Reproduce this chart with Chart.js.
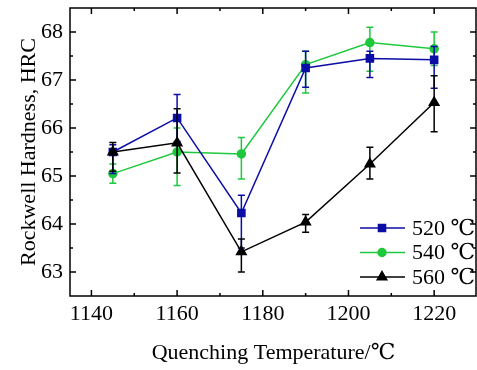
<!DOCTYPE html>
<html>
<head>
<meta charset="utf-8">
<script src="https://cdn.jsdelivr.net/npm/chart.js@4.4.0/dist/chart.umd.min.js"></script>
<style>
    html, body { margin: 0; padding: 0; background: #fff; }
    #wrap { width: 477px; height: 370px; }
</style>
</head>
<body>
<div id="wrap"><canvas id="hrcChart" width="477" height="370"></canvas></div>
<script>
// Data
const temps = [1145, 1160, 1175, 1190, 1205, 1220];

const hrc520 = [65.5, 66.21, 64.23, 67.25, 67.45, 67.42];
const lo520 = [65.05, 65.72, 63.5, 66.85, 67.05, 66.83];
const hi520 = [65.65, 66.7, 64.6, 67.6, 67.6, 67.7];

const hrc540 = [65.05, 65.5, 65.46, 67.32, 67.78, 67.65];
const lo540 = [64.85, 64.8, 64.94, 66.73, 67.18, 67.3];
const hi540 = [65.25, 66.0, 65.8, 67.6, 68.1, 68.0];

const hrc560 = [65.5, 65.69, 63.42, 64.04, 65.25, 66.53];
const lo560 = [65.1, 65.06, 63.0, 63.83, 64.94, 65.92];
const hi560 = [65.7, 66.4, 63.69, 64.2, 65.6, 67.09];

const seriesLabels = ['520 ℃', '540 ℃', '560 ℃'];
const xTicks = [1140, 1160, 1180, 1200, 1220];
const yTicks = [63, 64, 65, 66, 67, 68];

const FONT = "'Liberation Serif', 'DejaVu Serif', 'Noto Sans CJK SC', serif";
Chart.defaults.color = '#000';

function pts(ys, lo, hi) {
    return temps.map((t, i) => ({ x: t, y: ys[i], lo: lo[i], hi: hi[i] }));
}

// error bars, drawn under each dataset's line and markers
const errorBars = {
    id: 'errorBars',
    beforeDatasetDraw(chart, args) {
        const ds = chart.data.datasets[args.index];
        const xs = chart.scales.x, ys = chart.scales.y;
        const ctx = chart.ctx;
        ctx.save();
        ctx.strokeStyle = ds.borderColor;
        ctx.lineWidth = 1.5;
        ds.data.forEach(p => {
            const px = xs.getPixelForValue(p.x);
            const top = ys.getPixelForValue(p.hi);
            const bot = ys.getPixelForValue(p.lo);
            ctx.beginPath();
            ctx.moveTo(px, top); ctx.lineTo(px, bot);
            ctx.moveTo(px - 3.5, top); ctx.lineTo(px + 3.5, top);
            ctx.moveTo(px - 3.5, bot); ctx.lineTo(px + 3.5, bot);
            ctx.stroke();
        });
        ctx.restore();
    }
};

// box around the plot with inward ticks on all four sides
const frame = {
    id: 'frame',
    afterDatasetsDraw(chart) {
        const { ctx, chartArea: a } = chart;
        const xs = chart.scales.x, ys = chart.scales.y;
        const r = a.right - 1;
        ctx.save();
        ctx.strokeStyle = '#000';
        ctx.lineWidth = 1.5;
        ctx.strokeRect(a.left, a.top, r - a.left, a.bottom - a.top);
        ctx.beginPath();
        xTicks.forEach(v => {
            const px = xs.getPixelForValue(v);
            ctx.moveTo(px, a.bottom); ctx.lineTo(px, a.bottom - 6);
            ctx.moveTo(px, a.top); ctx.lineTo(px, a.top + 6);
            const m = xs.getPixelForValue(v + 10);
            if (m < r - 3) {
                ctx.moveTo(m, a.bottom); ctx.lineTo(m, a.bottom - 3);
                ctx.moveTo(m, a.top); ctx.lineTo(m, a.top + 3);
            }
        });
        yTicks.forEach(v => {
            const py = ys.getPixelForValue(v);
            ctx.moveTo(a.left, py); ctx.lineTo(a.left + 6, py);
            ctx.moveTo(r, py); ctx.lineTo(r - 6, py);
            const m = ys.getPixelForValue(v + 0.5);
            if (m > a.top + 3) {
                ctx.moveTo(a.left, m); ctx.lineTo(a.left + 3, m);
                ctx.moveTo(r, m); ctx.lineTo(r - 3, m);
            }
        });
        ctx.stroke();
        ctx.restore();
    }
};

// legend in the lower right corner of the plot
const cornerLegend = {
    id: 'cornerLegend',
    afterDraw(chart) {
        const { ctx, chartArea: a } = chart;
        ctx.save();
        ctx.font = '22px ' + FONT;
        ctx.textBaseline = 'middle';
        chart.data.datasets.forEach((ds, i) => {
            const y = a.bottom - 68 + i * 24.5;
            const x0 = a.right - 117;
            ctx.strokeStyle = ds.borderColor;
            ctx.lineWidth = 1.5;
            ctx.beginPath();
            ctx.moveTo(x0, y); ctx.lineTo(x0 + 45, y);
            ctx.stroke();
            ctx.fillStyle = ds.pointBackgroundColor;
            Chart.helpers.drawPoint(ctx, {
                pointStyle: ds.pointStyle, radius: ds.pointRadius, borderWidth: 1, rotation: 0
            }, x0 + 22, y);
            ctx.fillStyle = '#000';
            ctx.fillText(ds.label, x0 + 52, y + 1);
        });
        ctx.restore();
    }
};

const ctx = document.getElementById('hrcChart').getContext('2d');
const hrcChart = new Chart(ctx, {
    type: 'line',
    data: {
        datasets: [
            {
                label: seriesLabels[0], data: pts(hrc520, lo520, hi520), order: 1,
                borderColor: '#0c0ca6', backgroundColor: '#0c0ca6',
                pointBackgroundColor: '#0c0ca6', pointBorderColor: '#0c0ca6',
                pointStyle: 'rect', pointRadius: 5, borderWidth: 1.5
            },
            {
                label: seriesLabels[1], data: pts(hrc540, lo540, hi540), order: 2,
                borderColor: '#1ec83c', backgroundColor: '#1ec83c',
                pointBackgroundColor: '#1ec83c', pointBorderColor: '#1ec83c',
                pointStyle: 'circle', pointRadius: 4, borderWidth: 1.5
            },
            {
                label: seriesLabels[2], data: pts(hrc560, lo560, hi560), order: 0,
                borderColor: '#000', backgroundColor: '#000',
                pointBackgroundColor: '#000', pointBorderColor: '#000',
                pointStyle: 'triangle', pointRadius: 5.5, borderWidth: 1.5
            }
        ]
    },
    options: {
        responsive: false,
        animation: false,
        layout: { autoPadding: false, padding: { top: 8, right: 0, left: 0, bottom: 0 } },
        plugins: {
            legend: { display: false },
            tooltip: { enabled: false }
        },
        scales: {
            x: {
                type: 'linear',
                min: 1135,
                max: 1230,
                afterBuildTicks: s => { s.ticks = xTicks.map(v => ({ value: v })); },
                afterFit: s => { s.height = 74; s.paddingLeft = 0; s.paddingRight = 0; },
                grid: { display: false, drawTicks: false },
                border: { display: false },
                ticks: {
                    padding: 5,
                    font: { family: FONT, size: 22 },
                    color: '#000',
                    callback: v => String(v)
                },
                title: {
                    display: true,
                    text: 'Quenching Temperature/℃',
                    font: { family: FONT, size: 22 },
                    padding: { top: 0, bottom: 4 },
                    color: '#000'
                }
            },
            y: {
                min: 62.5,
                max: 68.5,
                afterBuildTicks: s => { s.ticks = yTicks.map(v => ({ value: v })); },
                afterFit: s => { s.width = 70; s.paddingTop = 0; s.paddingBottom = 0; },
                grid: { display: false, drawTicks: false },
                border: { display: false },
                ticks: { padding: 7, font: { family: FONT, size: 22 }, color: '#000' },
                title: {
                    display: true,
                    text: 'Rockwell Hardness, HRC',
                    font: { family: FONT, size: 22 },
                    padding: { top: 16, bottom: 0 },
                    color: '#000'
                }
            }
        }
    },
    plugins: [errorBars, frame, cornerLegend]
});
</script>
</body>
</html>
